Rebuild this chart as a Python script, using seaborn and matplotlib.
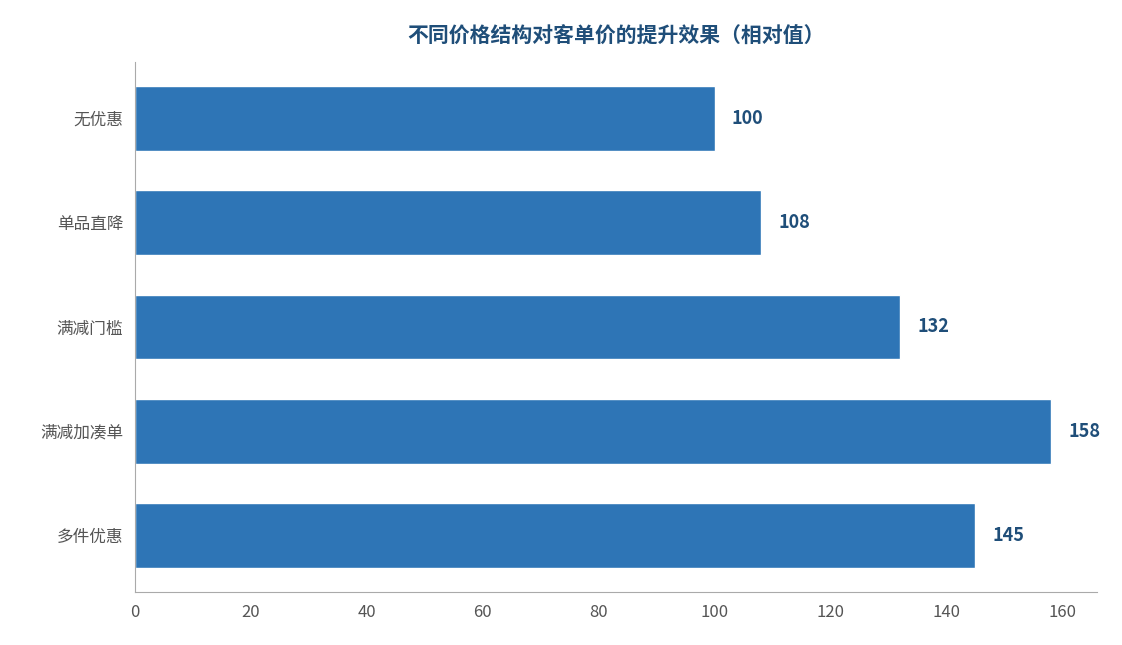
import matplotlib
matplotlib.use("Agg")
import matplotlib.pyplot as plt
import seaborn as sns
import pandas as pd

categories = ["无优惠", "单品直降", "满减门槛", "满减加凑单", "多件优惠"]
values = [100, 108, 132, 158, 145]

sns.set_style("white")
plt.rcParams['font.family'] = ['Noto Sans CJK SC', 'DejaVu Sans']

df = pd.DataFrame({"结构": categories, "相对值": values})

fig = plt.figure(figsize=(11.22, 6.45), dpi=100)
ax = fig.add_axes([135 / 1122, 1 - 592 / 645, (1097 - 135) / 1122, (592 - 62) / 645])
sns.barplot(data=df, x="相对值", y="结构", color="#2E75B6", saturation=1, width=0.62, ax=ax)

for i, v in enumerate(values):
    ax.text(v + 3, i, str(v), va="center", ha="left", fontsize=13,
            fontweight="bold", color="#1F4E79")

ax.set_xlim(0, 166)
ax.set_ylim(4.54, -0.54)
ax.set_xticks(range(0, 161, 20))
ax.set_xlabel("")
ax.set_ylabel("")
ax.tick_params(axis="both", labelsize=12, colors="#555555", length=5, color="#999999")
for side in ["top", "right"]:
    ax.spines[side].set_visible(False)
for side in ["left", "bottom"]:
    ax.spines[side].set_color("#AAAAAA")
ax.set_title("不同价格结构对客单价的提升效果（相对值）", fontsize=15, fontweight="bold",
             color="#1F4E79", pad=14)

fig.savefig("out.png", dpi=100)
